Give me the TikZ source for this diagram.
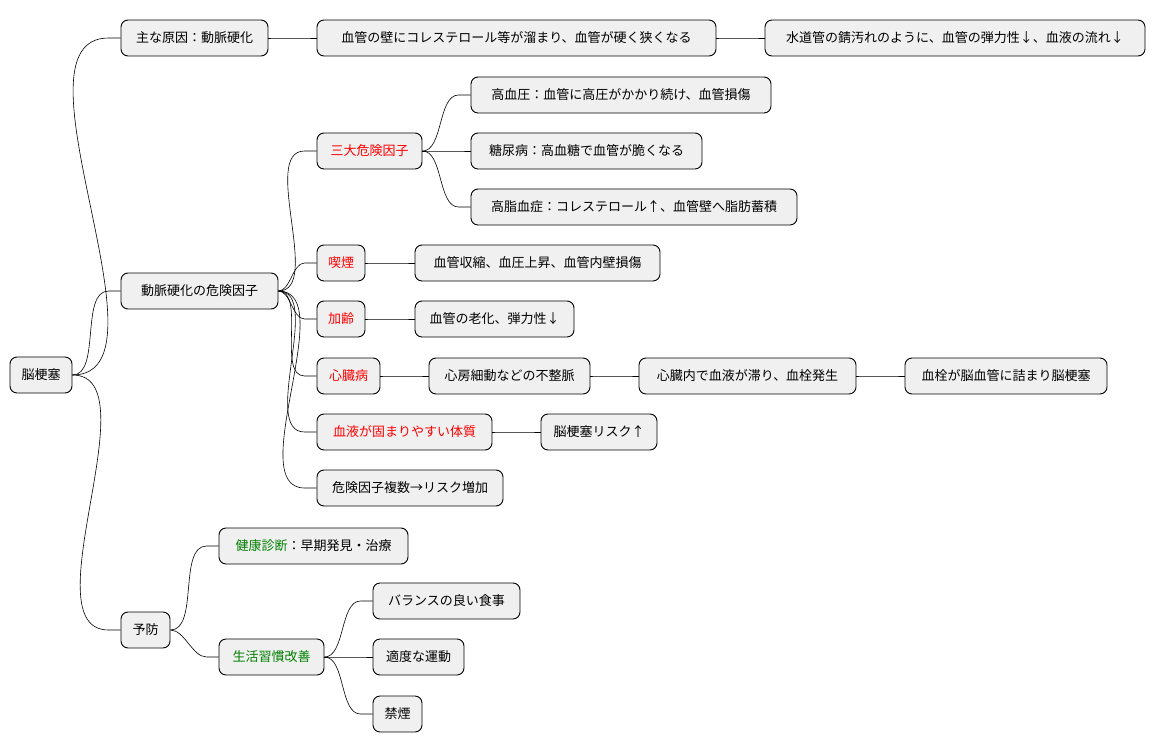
\documentclass[tikz,border=0pt]{standalone}
\usepackage{fontspec}
\setmainfont{Noto Sans CJK JP}
\begin{document}
\begin{tikzpicture}[x=1pt,y=-1pt,
 box/.style={draw=black,line width=0.9pt,fill=black!6,rounded corners=7pt,minimum height=36pt,inner xsep=0pt,font=\fontsize{13}{15}\selectfont},
 rd/.style={text=red}, link/.style={line width=0.6pt}]
\useasboundingbox (0,0) rectangle (1156,752);
\newcommand\bx[5][]{\node[box,#1,minimum width=#3pt] (#2) at (#4) {#5};}
\bx{root}{62}{41,375}{脳梗塞}
\bx{a}{147}{194.5,38}{主な原因：動脈硬化}
\bx{a1}{399}{516.5,38}{血管の壁にコレステロール等が溜まり、血管が硬く狭くなる}
\bx{a2}{380}{955,38}{水道管の錆汚れのように、血管の弾力性↓、血液の流れ↓}
\bx{b}{157}{199.5,291}{動脈硬化の危険因子}
\bx[rd]{b1}{105}{369.5,151}{三大危険因子}
\bx{b11}{300}{621,95}{高血圧：血管に高圧がかかり続け、血管損傷}
\bx{b12}{231}{586.5,151}{糖尿病：高血糖で血管が脆くなる}
\bx{b13}{326}{634,207}{高脂血症：コレステロール↑、血管壁へ脂肪蓄積}
\bx[rd]{b2}{48}{341,263}{喫煙}
\bx{b21}{245}{537.5,263}{血管収縮、血圧上昇、血管内壁損傷}
\bx[rd]{b3}{48}{341,319}{加齢}
\bx{b31}{159}{494.5,319}{血管の老化、弾力性↓}
\bx[rd]{b4}{63}{348.5,376}{心臓病}
\bx{b41}{161}{509.5,376}{心房細動などの不整脈}
\bx{b42}{217}{747.5,376}{心臓内で血液が滞り、血栓発生}
\bx{b43}{202}{1006,376}{血栓が脳血管に詰まり脳梗塞}
\bx[rd]{b5}{175}{404.5,432}{血液が固まりやすい体質}
\bx{b51}{116}{599,432}{脳梗塞リスク↑}
\bx{b6}{186}{410,488}{危険因子複数→リスク増加}
\bx{c}{49}{145.5,630}{予防}
\bx{c1}{189}{313.5,546}{\textcolor{green!50!black}{健康診断}：早期発見・治療}
\bx[text=green!50!black]{c2}{105}{271.5,657}{生活習慣改善}
\bx{c21}{147}{446.5,601}{バランスの良い食事}
\bx{c22}{91}{418.5,657}{適度な運動}
\bx{c23}{49}{397.5,714}{禁煙}
\foreach \p/\c in {root/a,root/b,root/c,a/a1,a1/a2,b/b1,b/b2,b/b3,b/b4,b/b5,b/b6,b1/b11,b1/b12,b1/b13,b2/b21,b3/b31,b4/b41,b41/b42,b42/b43,b5/b51,c/c1,c/c2,c2/c21,c2/c22,c2/c23}
 \draw[link] (\p.east) to[out=0,in=180,looseness=0.8] ([xshift=-12pt]\c.west) -- (\c.west);
\end{tikzpicture}
\end{document}
